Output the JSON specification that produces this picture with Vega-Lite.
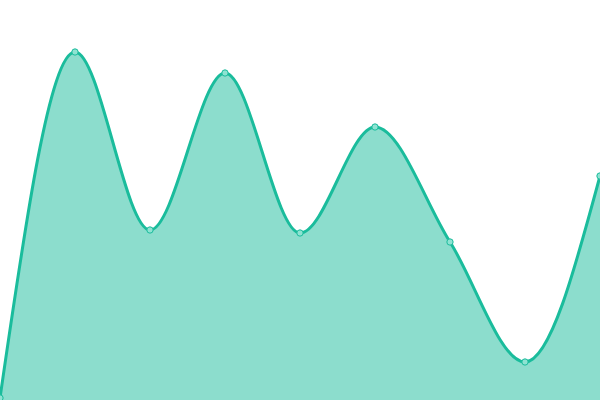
{
  "$schema": "https://vega.github.io/schema/vega-lite/v6.json",
  "width": 600,
  "height": 400,
  "autosize": "none",
  "padding": 0,
  "background": "white",
  "config": {"view": {"stroke": null}},
  "data": {"values": [
    {"i": 0, "v": 0.5},
    {"i": 1, "v": 87},
    {"i": 2, "v": 42.5},
    {"i": 3, "v": 81.75},
    {"i": 4, "v": 41.75},
    {"i": 5, "v": 68.25},
    {"i": 6, "v": 39.5},
    {"i": 7, "v": 9.5},
    {"i": 8, "v": 56}
  ]},
  "encoding": {
    "x": {"field": "i", "type": "quantitative", "scale": {"domain": [0, 8], "nice": false, "zero": false}, "axis": null},
    "y": {"field": "v", "type": "quantitative", "scale": {"domain": [0, 100], "nice": false}, "axis": null}
  },
  "layer": [
    {"mark": {"type": "area", "interpolate": "monotone", "color": "#1abc9c", "opacity": 0.5}},
    {"mark": {"type": "line", "interpolate": "monotone", "color": "#1abc9c", "strokeWidth": 3}},
    {"mark": {"type": "point", "filled": true, "size": 40, "fill": "#8ee3d2", "stroke": "#1abc9c", "strokeWidth": 1, "opacity": 1}}
  ]
}
